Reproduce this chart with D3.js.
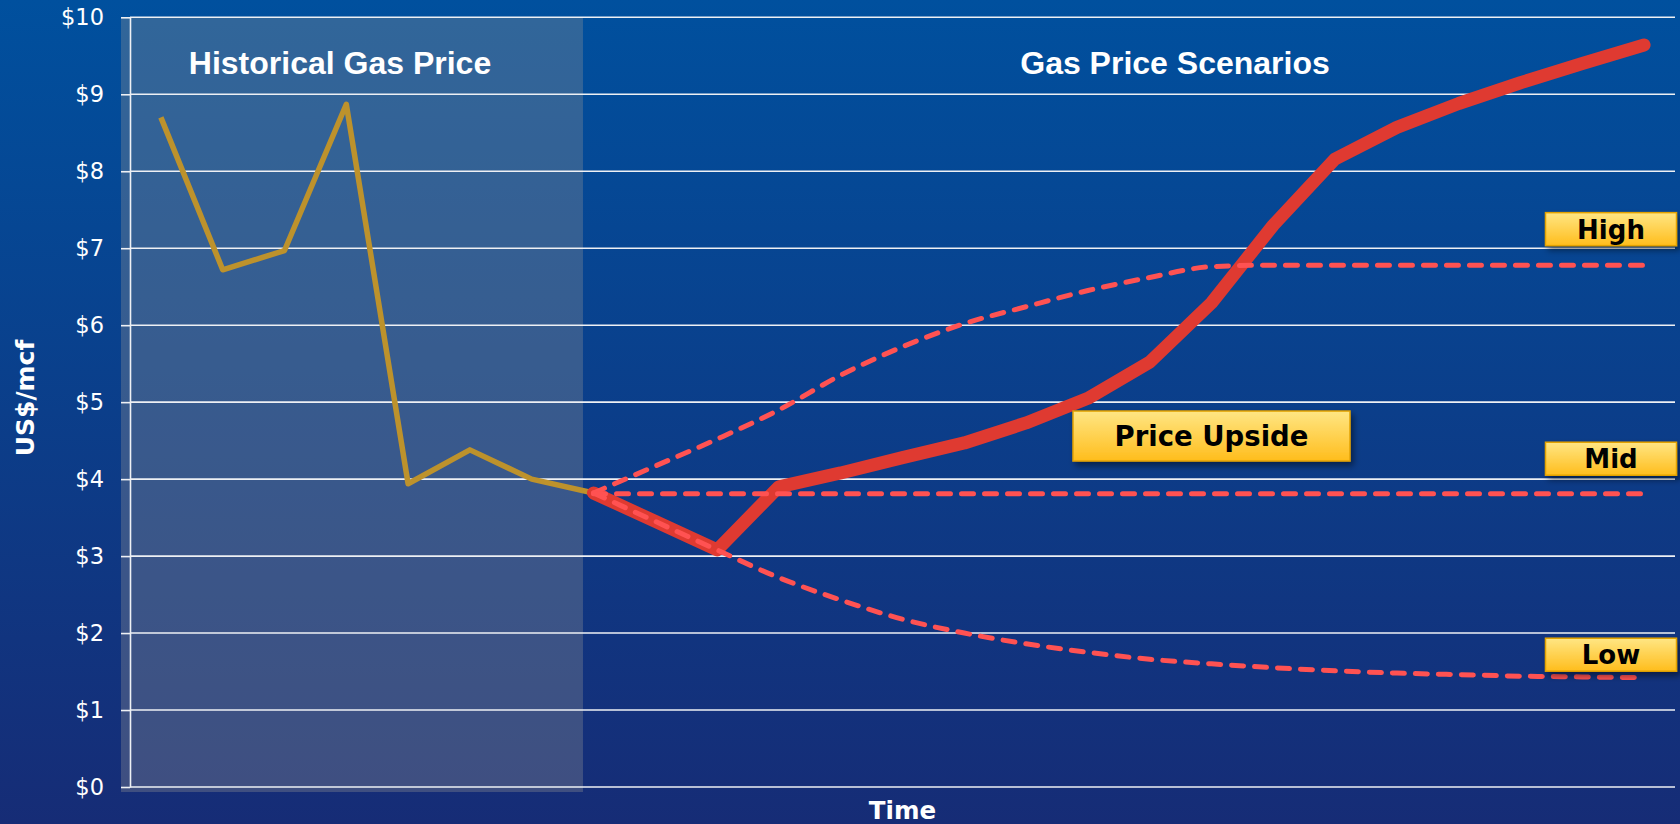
<!DOCTYPE html>
<html>
<head>
<meta charset="utf-8">
<script src="https://cdn.jsdelivr.net/npm/d3@7"></script>
<style>
  html, body { margin: 0; padding: 0; background: #0a3c8a; }
  svg { display: block; }
</style>
</head>
<body>
<svg id="chart" width="1680" height="824"></svg>
<script>
// ---------- DATA ----------
const periods = [0,1,2,3,4,5,6,7,8,9,10,11,12,13,14,15,16,17,18,19,20,21,22,23,24];
const historicalPeriods = [0,1,2,3,4,5,6,7];
const historicalPrice = [8.70, 6.72, 6.97, 8.87, 3.94, 4.38, 4.00, 3.82];
const scenarioPeriods = [7,8,9,10,11,12,13,14,15,16,17,18,19,20,21,22,23,24];
const upsidePrice = [3.82, 3.45, 3.08, 3.90, 4.08, 4.28, 4.47, 4.73, 5.05, 5.52, 6.29, 7.30, 8.16, 8.57, 8.88, 9.15, 9.40, 9.64];
const highPrice   = [3.82, 4.17, 4.52, 4.90, 5.35, 5.72, 6.02, 6.24, 6.45, 6.62, 6.76, 6.78, 6.78, 6.78, 6.78, 6.78, 6.78, 6.78];
const midPrice    = [3.81, 3.81, 3.81, 3.81, 3.81, 3.81, 3.81, 3.81, 3.81, 3.81, 3.81, 3.81, 3.81, 3.81, 3.81, 3.81, 3.81, 3.81];
const lowPrice    = [3.82, 3.45, 3.08, 2.72, 2.43, 2.18, 2.00, 1.86, 1.75, 1.66, 1.60, 1.55, 1.51, 1.48, 1.46, 1.44, 1.43, 1.42];
const yTicks = [0,1,2,3,4,5,6,7,8,9,10];
const yTickLabels = ["$0","$1","$2","$3","$4","$5","$6","$7","$8","$9","$10"];
const scenarioNames = ["High", "Mid", "Low"];
const sectionTitles = ["Historical Gas Price", "Gas Price Scenarios"];
const upsideLabel = "Price Upside";
const xAxisTitle = "Time";
const yAxisTitle = "US$/mcf";
const historicalShadeEnd = 6.83;   // in period units
const upsideLabelAnchor = {period: 17, value: 4.56};

// ---------- SETUP ----------
const W = 1680, H = 824;
const svg = d3.select("#chart");
const defs = svg.append("defs");

const bg = defs.append("linearGradient").attr("id","bg").attr("x1",0).attr("y1",0).attr("x2",0).attr("y2",1);
bg.append("stop").attr("offset","0%").attr("stop-color","#00509e");
bg.append("stop").attr("offset","100%").attr("stop-color","#162c76");

const boxG = defs.append("linearGradient").attr("id","box").attr("x1",0).attr("y1",0).attr("x2",0).attr("y2",1);
boxG.append("stop").attr("offset","0%").attr("stop-color","#ffe684");
boxG.append("stop").attr("offset","100%").attr("stop-color","#ffbd1c");

const sh = defs.append("filter").attr("id","shadow").attr("x","-20%").attr("y","-30%").attr("width","140%").attr("height","170%");
sh.append("feDropShadow").attr("dx",3).attr("dy",4).attr("stdDeviation",3).attr("flood-color","#000").attr("flood-opacity",0.45);

svg.append("rect").attr("width",W).attr("height",H).attr("fill","url(#bg)");

const plotLeft = 130, plotRight = 1675, plotTop = 17.3, plotBottom = 787;
const x = d3.scalePoint().domain(periods).range([plotLeft, plotRight]).padding(0.5);
const y = d3.scaleLinear().domain([0, 10]).range([plotBottom, plotTop]);

// historical shading
const shadeX1 = x(Math.floor(historicalShadeEnd)) + (historicalShadeEnd - Math.floor(historicalShadeEnd)) * x.step();
svg.append("rect")
  .attr("x", plotLeft - 9).attr("y", plotTop)
  .attr("width", shadeX1 - (plotLeft - 9)).attr("height", plotBottom + 5 - plotTop)
  .attr("fill", "rgb(150,150,150)").attr("fill-opacity", 0.33);

// gridlines
svg.append("g").selectAll("line").data(yTicks).join("line")
  .attr("x1", plotLeft).attr("x2", plotRight)
  .attr("y1", d => y(d)).attr("y2", d => y(d))
  .attr("stroke", "#eef0f4").attr("stroke-width", 1.6);

// y axis
const yAxis = d3.axisLeft(y).tickValues(yTicks).tickFormat((d,i) => yTickLabels[i])
  .tickSizeInner(9).tickSizeOuter(0).tickPadding(17);
const ya = svg.append("g").attr("transform", `translate(${plotLeft},0)`).call(yAxis);
ya.select(".domain").attr("stroke", "#eef0f4").attr("stroke-width", 1.6);
ya.selectAll(".tick line").attr("stroke", "#eef0f4").attr("stroke-width", 1.6);
ya.selectAll(".tick text").attr("fill", "#ffffff")
  .style("font-family", "'DejaVu Sans', Verdana, sans-serif").style("font-size", "22.5px");

// lines
const line = (ps) => d3.line().x((d,i) => x(ps[i])).y(d => y(d));
svg.append("path").datum(historicalPrice)
  .attr("d", line(historicalPeriods))
  .attr("fill","none").attr("stroke","#bd922c").attr("stroke-width",5.5)
  .attr("stroke-linejoin","round");

svg.append("path").datum(upsidePrice)
  .attr("d", line(scenarioPeriods))
  .attr("fill","none").attr("stroke","#df3a31").attr("stroke-width",13)
  .attr("stroke-linejoin","round").attr("stroke-linecap","round");

const smooth = d3.line().x((d,i) => x(scenarioPeriods[i])).y(d => y(d)).curve(d3.curveMonotoneX);
[highPrice, midPrice, lowPrice].forEach(series => {
  svg.append("path").datum(series)
    .attr("d", smooth)
    .attr("fill","none").attr("stroke","#ff5252").attr("stroke-width",5)
    .attr("stroke-dasharray","12,11").attr("stroke-linecap","round");
});

// section titles
svg.append("text").attr("x", 340).attr("y", 74).attr("text-anchor","middle")
  .attr("fill","#fff").style("font-family","'Liberation Sans', Arial, sans-serif")
  .style("font-weight","bold").style("font-size","32px").text(sectionTitles[0]);
svg.append("text").attr("x", 1175).attr("y", 74).attr("text-anchor","middle")
  .attr("fill","#fff").style("font-family","'Liberation Sans', Arial, sans-serif")
  .style("font-weight","bold").style("font-size","32px").text(sectionTitles[1]);

// label boxes
function labelBox(cx, cy, w, h, txt, fs) {
  const g = svg.append("g");
  g.append("rect").attr("x", cx - w/2).attr("y", cy - h/2).attr("width", w).attr("height", h)
    .attr("fill","url(#box)").attr("stroke","#e3a200").attr("stroke-width",1.5)
    .attr("filter","url(#shadow)");
  g.append("text").attr("x", cx).attr("y", cy).attr("dy","0.36em").attr("text-anchor","middle")
    .attr("fill","#000").style("font-family","'DejaVu Sans', Verdana, sans-serif")
    .style("font-weight","bold").style("font-size", fs + "px").text(txt);
}
labelBox(x(upsideLabelAnchor.period), y(upsideLabelAnchor.value), 277, 50, upsideLabel, 27.5);

const lastVals = [highPrice[highPrice.length-1], midPrice[midPrice.length-1], lowPrice[lowPrice.length-1]];
const boxOffsets = [36, 35, 23];
scenarioNames.forEach((n, i) => {
  labelBox(1611, y(lastVals[i]) - boxOffsets[i], 131, 33, n, 26);
});

// axis titles
svg.append("text").attr("x", (plotLeft + plotRight)/2).attr("y", 819).attr("text-anchor","middle")
  .attr("fill","#fff").style("font-family","'DejaVu Sans', Verdana, sans-serif")
  .style("font-weight","bold").style("font-size","24.5px").text(xAxisTitle);
svg.append("text").attr("transform","translate(34,398) rotate(-90)").attr("text-anchor","middle")
  .attr("fill","#fff").style("font-family","'DejaVu Sans', Verdana, sans-serif")
  .style("font-weight","bold").style("font-size","25px").text(yAxisTitle);
</script>
</body>
</html>
